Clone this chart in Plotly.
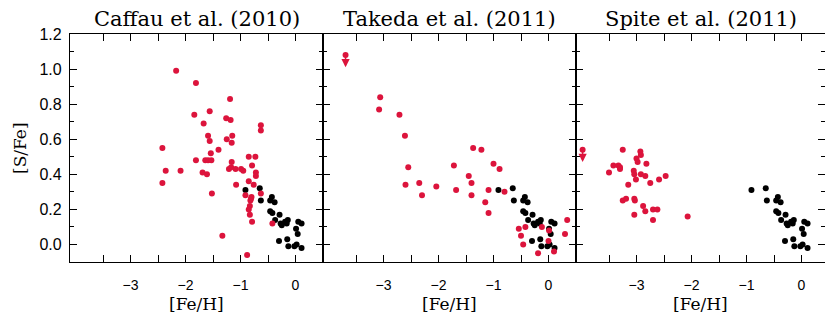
import plotly.graph_objects as go

# ---------------- data ----------------
titles = ["Caffau et al. (2010)", "Takeda et al. (2011)", "Spite et al. (2011)"]
x_label = "[Fe/H]"
y_label = "[S/Fe]"
x_tickvals = [-3.5, -3.0, -2.5, -2.0, -1.5, -1.0, -0.5, 0.0]
x_ticktext = ["", "\u22123", "", "\u22122", "", "\u22121", "", "0"]

# comparison sample (black), identical in all three panels
black_feh = [-0.91, -0.65, -0.63, -0.43, -0.46, -0.38, -0.46, -0.42, -0.29, -0.37,
             -0.27, -0.25, -0.19, -0.14, -0.16, 0.05, 0.11, 0.01, 0.04, -0.30,
             -0.15, -0.13, -0.02, 0.02, 0.11]
black_sfe = [0.31, 0.32, 0.25, 0.27, 0.25, 0.24, 0.19, 0.18, 0.17, 0.14,
             0.12, 0.11, 0.13, 0.14, 0.12, 0.13, 0.12, 0.09, 0.06, 0.02,
             0.03, -0.01, -0.01, 0.00, -0.02]

caffau_feh = [-2.17, -1.81, -1.19, -1.84, -1.56, -1.26, -1.18, -0.63, -0.63, -1.67,
              -1.59, -1.56, -1.15, -1.25, -1.16, -2.42, -1.40, -1.54, -1.81, -1.64,
              -1.59, -1.53, -0.85, -0.73, -1.16, -0.79, -1.21, -1.17, -1.09, -0.99,
              -0.95, -2.36, -2.09, -1.69, -1.61, -0.72, -0.72, -2.42, -0.85, -1.08,
              -0.76, -1.52, -0.63, -0.91, -0.80, -0.81, -0.82, -0.83, -0.85, -0.83,
              -0.79, -0.42, -1.33, -0.88]
caffau_sfe = [0.99, 0.92, 0.83, 0.74, 0.76, 0.72, 0.71, 0.68, 0.65, 0.69,
              0.62, 0.59, 0.62, 0.60, 0.58, 0.55, 0.54, 0.52, 0.48, 0.48,
              0.48, 0.48, 0.50, 0.50, 0.47, 0.45, 0.43, 0.44, 0.43, 0.43,
              0.42, 0.42, 0.42, 0.41, 0.40, 0.41, 0.39, 0.35, 0.36, 0.34,
              0.34, 0.29, 0.29, 0.28, 0.27, 0.26, 0.25, 0.22, 0.20, 0.17,
              0.13, 0.12, 0.05, -0.06]

takeda_feh = [-3.06, -3.08, -2.71, -2.61, -2.55, -2.60, -2.35, -2.30, -2.04, -1.72,
              -1.68, -1.37, -1.22, -1.45, -1.40, -1.40, -1.15, -1.09, -1.09, -1.00,
              -0.89, -0.80, -0.54, -0.50, -0.42, -0.46, -0.12, 0.01, 0.00, -0.19,
              0.10, 0.30, 0.34]
takeda_sfe = [0.84, 0.77, 0.74, 0.62, 0.44, 0.34, 0.35, 0.28, 0.33, 0.45,
              0.31, 0.55, 0.54, 0.39, 0.35, 0.28, 0.24, 0.31, 0.18, 0.46,
              0.43, 0.30, 0.09, 0.05, 0.10, 0.00, 0.10, 0.08, 0.02, -0.05,
              -0.04, 0.06, 0.14]
takeda_lim_feh = [-3.69]
takeda_lim_sfe = [1.08]

spite_feh = [-3.25, -2.93, -2.92, -3.00, -2.98, -2.82, -3.42, -3.33, -3.30, -3.30,
             -3.50, -3.05, -3.04, -2.92, -2.84, -2.47, -3.01, -2.59, -2.75, -3.15,
             -3.25, -3.19, -3.04, -3.03, -2.88, -2.84, -2.70, -2.62, -3.04, -2.70,
             -2.07]
spite_sfe = [0.54, 0.53, 0.51, 0.49, 0.47, 0.46, 0.45, 0.45, 0.44, 0.43,
             0.41, 0.42, 0.40, 0.40, 0.39, 0.39, 0.37, 0.37, 0.35, 0.34,
             0.25, 0.26, 0.26, 0.25, 0.22, 0.19, 0.20, 0.20, 0.17, 0.14,
             0.16]
spite_lim_feh = [-3.98]
spite_lim_sfe = [0.54]

# ---------------- style ----------------
RED = "#DC143C"
SERIF = "DejaVu Serif"
SANS = "Liberation Sans"
X_RANGE = [-4.1, 0.5]
Y_RANGE = [-0.1, 1.2]
ARROW_LEN = 0.07

W, H = 825, 313
ML, MR, MT, MB = 70, 0, 34, 51
plot_w = W - ML - MR
panel_px = 253
doms = [[0, panel_px / plot_w], [panel_px / plot_w, 2 * panel_px / plot_w],
        [2 * panel_px / plot_w, 1]]
px_per_unit = panel_px / (X_RANGE[1] - X_RANGE[0])
last_range = [X_RANGE[0], X_RANGE[0] + (plot_w - 2 * panel_px) / px_per_unit]

panels = [
    (caffau_feh, caffau_sfe, [], []),
    (takeda_feh, takeda_sfe, takeda_lim_feh, takeda_lim_sfe),
    (spite_feh, spite_sfe, spite_lim_feh, spite_lim_sfe),
]

fig = go.Figure()
annotations = []
for i, (fx, fy, lx, ly) in enumerate(panels):
    sfx = "" if i == 0 else str(i + 1)
    xa, ya = "x" + sfx, "y" + sfx
    fig.add_trace(go.Scatter(x=black_feh, y=black_sfe, mode="markers",
                             marker=dict(color="black", size=6, line=dict(width=0)),
                             xaxis=xa, yaxis=ya, showlegend=False))
    fig.add_trace(go.Scatter(x=fx, y=fy, mode="markers",
                             marker=dict(color=RED, size=6, line=dict(width=0)),
                             xaxis=xa, yaxis=ya, showlegend=False))
    if lx:
        fig.add_trace(go.Scatter(x=lx, y=ly, mode="markers",
                                 marker=dict(color=RED, size=6, line=dict(width=0)),
                                 xaxis=xa, yaxis=ya, showlegend=False))
        for px_, py_ in zip(lx, ly):
            annotations.append(dict(x=px_, y=py_ - ARROW_LEN, xref=xa, yref=ya,
                                    ax=px_, ay=py_, axref=xa, ayref=ya,
                                    text="", showarrow=True, arrowhead=2,
                                    arrowsize=1.1, arrowwidth=1.5, arrowcolor=RED))
    # panel title
    annotations.append(dict(text=titles[i], xref=xa + " domain", yref="paper",
                            x=0.5, y=1, yshift=15, xanchor="center", yanchor="middle",
                            showarrow=False, font=dict(family=SERIF, size=21, color="black")))
    # x label
    annotations.append(dict(text=x_label, xref=xa + " domain", yref="paper",
                            x=0.5, y=0, yshift=-42, xanchor="center", yanchor="middle",
                            showarrow=False, font=dict(family=SERIF, size=17, color="black")))

    axis_common = dict(showline=True, linecolor="black", linewidth=1.2,
                       mirror="allticks", ticks="inside", tickcolor="black",
                       tickwidth=1.2, showgrid=False, zeroline=False)
    fig.layout["xaxis" + sfx] = dict(
        domain=doms[i], range=(last_range if i == 2 else X_RANGE), anchor=ya,
        tickmode="array", tickvals=x_tickvals, ticktext=x_ticktext, ticklen=7,
        tickfont=dict(family=SANS, size=14, color="black"), ticklabelstandoff=10,
        **axis_common)
    fig.layout["yaxis" + sfx] = dict(
        domain=[0, 1], range=Y_RANGE, anchor=xa, dtick=0.2, tick0=0,
        tickformat=".1f", ticklen=7, showticklabels=(i == 0),
        tickfont=dict(family=SANS, size=16, color="black"), ticklabelstandoff=4,
        minor=dict(dtick=0.1, ticks="inside", ticklen=4, tickwidth=1.2,
                   tickcolor="black", showgrid=False),
        **axis_common)

annotations.append(dict(text=y_label, xref="paper", yref="paper", x=0, y=0.5,
                        xshift=-50, xanchor="center", yanchor="middle", textangle=-90,
                        showarrow=False, font=dict(family=SERIF, size=17, color="black")))

fig.update_layout(width=W, height=H, margin=dict(l=ML, r=MR, t=MT, b=MB),
                  plot_bgcolor="white", paper_bgcolor="white",
                  annotations=annotations, showlegend=False)

fig.write_html("out.html", config={"displayModeBar": False},
               post_script="document.body.style.margin='0';document.body.style.overflow='hidden';")
